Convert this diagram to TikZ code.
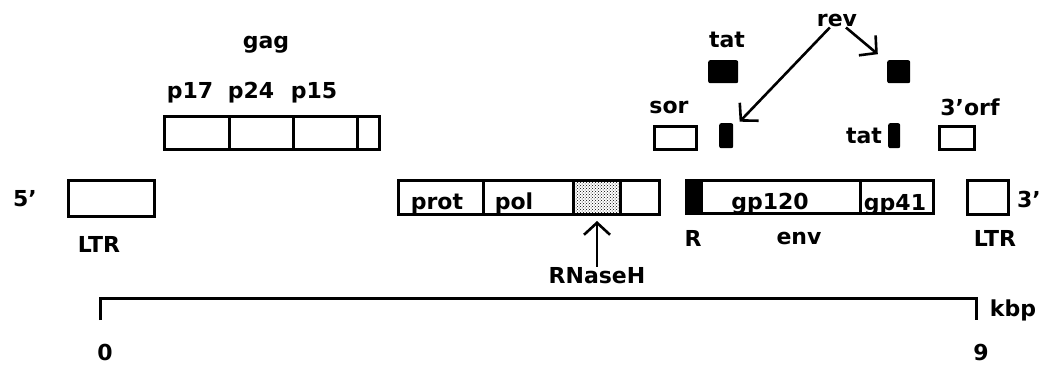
\documentclass[tikz,border=0pt]{standalone}
\usepackage{fontspec}
\setmainfont{DejaVu Sans}
\usetikzlibrary{arrows.meta,patterns}

\begin{document}
\begin{tikzpicture}[
  x=1pt, y=-1pt,
  font=\fontsize{22}{26}\selectfont\bfseries,
  seg/.style={draw, line width=3pt, inner sep=0pt, anchor=north west},
  blob/.style={fill=black, inner sep=0pt, anchor=north west, rounded corners=2pt},
  txt/.style={inner sep=1pt},
  intxt/.style={inner sep=0pt, anchor=base},
  arr/.style={-{Straight Barb[length=12pt,width=26pt]}, line width=2.6pt},
  bar/.style={line width=3pt},
]
\useasboundingbox (0,0) rectangle (1043,364);

% genome segments
\node[seg, minimum width=86pt, minimum height=36pt] (ltrL) at (67,179) {};
\node[seg, minimum width=65pt, minimum height=33pt] (gag1) at (163,115) {};
\node[seg, minimum width=64pt, minimum height=33pt] (gag2) at (228,115) {};
\node[seg, minimum width=64pt, minimum height=33pt] (gag3) at (292,115) {};
\node[seg, minimum width=22pt, minimum height=33pt] (gag4) at (356,115) {};
\node[seg, minimum width=85pt, minimum height=34pt] (prot) at (397,179) {};
\node[seg, minimum width=90pt, minimum height=34pt] (pol) at (482,179) {};
\node[seg, minimum width=47pt, minimum height=34pt, pattern=crosshatch dots] (rnh) at (572,179) {};
\node[seg, minimum width=39pt, minimum height=34pt] (polend) at (619,179) {};
\node[seg, minimum width=15pt, minimum height=33pt, fill=black] (envR) at (685,179) {};
\node[seg, minimum width=159pt, minimum height=33pt] (gp120) at (700,179) {};
\node[seg, minimum width=73pt, minimum height=33pt] (gp41) at (859,179) {};
\node[seg, minimum width=41pt, minimum height=34pt] (ltrR) at (966,179) {};
\node[seg, minimum width=42pt, minimum height=23pt] (sor) at (653,125) {};
\node[seg, minimum width=35pt, minimum height=23pt] (orf) at (938,125) {};
\node[blob, minimum width=30pt, minimum height=23pt] (tatA) at (708,60) {};
\node[blob, minimum width=23pt, minimum height=23pt] (revA) at (887,60) {};
\node[blob, minimum width=14pt, minimum height=25pt] (revB) at (719,123) {};
\node[blob, minimum width=12pt, minimum height=25pt] (tatB) at (888,123) {};

% texts in the boxes
\node[intxt] (protT) at (437,209) {prot};
\node[intxt] (polT) at (514,209) {pol};
\node[intxt] (gp120T) at (770,209) {gp120};
\node[intxt] (gp41T) at (895,210) {gp41};

% labels
\node[txt] (five) at (25,199) {5'};
\node[txt] (ltrLl) at (99,244) {LTR};
\node[txt] (gag) at (266,45) {gag};
\node[txt] (p17) at (190,93) {p17};
\node[txt] (p24) at (251,93) {p24};
\node[txt] (p15) at (314,93) {p15};
\node[txt] (rnaseh) at (597,276) {RNaseH};
\node[txt] (R) at (693,238) {R};
\node[txt] (env) at (799,238) {env};
\node[txt] (ltrRl) at (995,238) {LTR};
\node[txt] (three) at (1029,199) {3'};
\node[txt] (rev) at (837,20) {rev};
\node[txt] (tatAl) at (727,40) {tat};
\node[txt] (sorl) at (669,107) {sor};
\node[txt] (tatBl) at (864,136) {tat};
\node[txt] (orfl) at (970,107) {3'orf};

\draw[arr, shorten >=5pt] (rnaseh.north -| rnh.south) -- (rnh.south);
\draw[arr, shorten >=9pt] (rev) -- (revB);
\draw[arr, shorten >=12pt] (rev) -- (revA);

% scale
\coordinate (s0) at (100,298);
\coordinate (s9) at (976,298);
\draw[bar] (s0) ++(0,22) -- (s0) -- (s9) -- ++(0,22);
\node[txt] (kbp) at (1013,310) {kbp};
\node[txt] (zero) at (105,352) {0};
\node[txt] (nine) at (981,352) {9};
\end{tikzpicture}
\end{document}
